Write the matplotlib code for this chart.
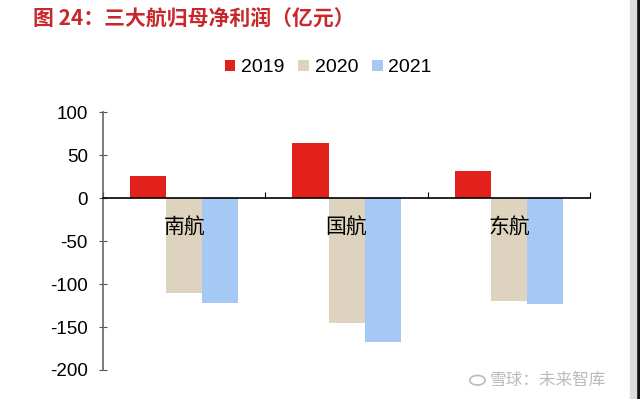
import numpy as np
import matplotlib.pyplot as plt
from matplotlib.patches import Rectangle, Circle

plt.rcParams['font.family'] = ['Liberation Sans', 'Noto Sans CJK SC', 'DejaVu Sans']
plt.rcParams['axes.unicode_minus'] = False

airlines = ['南航', '国航', '东航']
years = ['2019', '2020', '2021']
profit_2019 = [25.6, 64, 31]
profit_2020 = [-110, -145, -120]
profit_2021 = [-122, -168, -123]

COLORS = ['#E2211C', '#DDD3BE', '#A6C8F5']


def plot_profit():
    fig = plt.figure(figsize=(6.4, 3.99), dpi=100)
    ax = fig.add_axes([0.161, 0.0727, 0.761, 0.6463])

    x = np.arange(len(airlines))
    width = 0.222
    series = [profit_2019, profit_2020, profit_2021]
    for i, (vals, year) in enumerate(zip(series, years)):
        ax.bar(x + (i - 1) * width, vals, width, color=COLORS[i], label=year,
               zorder=2)

    ax.set_xlim(-0.5, len(airlines) - 0.5)
    ax.set_ylim(-200, 100)
    ax.set_yticks(np.arange(-200, 101, 50))
    ax.set_xticks(np.arange(-0.5, len(airlines), 1.0))
    ax.set_xticklabels([])
    ax.tick_params(axis='x', direction='in', length=4, width=0.8)
    ax.tick_params(axis='y', direction='inout', length=6, width=0.8,
                   labelsize=13.5, colors='#555555', labelcolor='black', pad=8)

    for s in ['top', 'right']:
        ax.spines[s].set_visible(False)
    ax.spines['left'].set_color('#666666')
    ax.spines['left'].set_linewidth(1.2)
    ax.spines['bottom'].set_position(('data', 0))
    ax.spines['bottom'].set_linewidth(1.2)
    ax.spines['bottom'].set_zorder(3)

    for i, name in enumerate(airlines):
        ax.annotate(name, (i, 0), xytext=(0, -21), textcoords='offset points',
                    ha='center', va='center', fontsize=15,
                    family=['Noto Sans CJK SC'], zorder=4)

    fig.legend(loc='center', bbox_to_anchor=(0.513, 0.83), ncol=3,
               frameon=False, fontsize=14, handlelength=0.55, handleheight=0.55,
               handletextpad=0.3, columnspacing=0.7)

    fig.text(0.052, 0.955, '图 24：三大航归母净利润（亿元）', fontsize=15,
             color='#C8282C', ha='left', va='center',
             family=['Noto Sans CJK SC'], weight='bold')

    fig.text(0.766, 0.047, '雪球：未来智库', fontsize=12, color='#BBBBBB',
             ha='left', va='center', family=['Noto Sans CJK SC'])
    fig.patches.append(Circle((0.746, 0.047), 0.012, transform=fig.transFigure,
                              fill=False, ec='#BBBBBB', lw=1.2))
    fig.patches.append(Rectangle((0.993, 0), 0.007, 1, transform=fig.transFigure,
                                 color='#111111'))
    fig.patches.append(Rectangle((0.985, 0), 0.008, 1, transform=fig.transFigure,
                                 color='#DDDDDD'))

    plt.savefig('out.png', dpi=100)


if __name__ == '__main__':
    plot_profit()
